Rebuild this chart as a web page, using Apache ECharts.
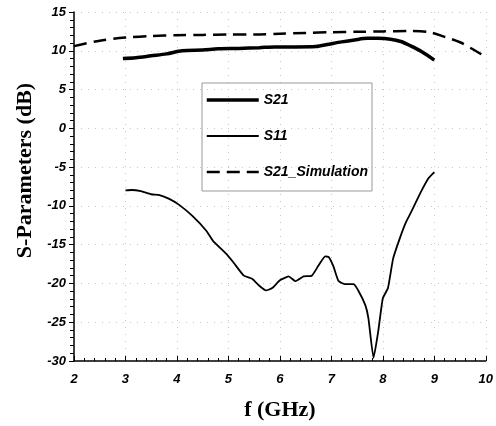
<!DOCTYPE html>
<html>
<head>
<meta charset="utf-8">
<script src="https://cdn.jsdelivr.net/npm/echarts@6/dist/echarts.min.js"></script>
<style>
  html, body { margin: 0; padding: 0; background: #fff; }
  #chart { width: 496px; height: 426px; }
</style>
</head>
<body>
<div id="chart"></div>
<script>
// measured S21
const freqS21 = [2.95, 3.2, 3.5, 3.8, 4.1, 4.5, 4.8, 5.2, 5.6, 5.9, 6.3, 6.7, 6.95, 7.2, 7.45, 7.7, 7.9, 8.15, 8.35, 8.55, 8.75, 9.0];
const valS21 = [9.0, 9.1, 9.35, 9.6, 10.0, 10.1, 10.25, 10.3, 10.4, 10.5, 10.5, 10.55, 10.85, 11.15, 11.4, 11.6, 11.6, 11.5, 11.2, 10.6, 9.9, 8.8];

// measured S11
const freqS11 = [3.0, 3.12, 3.3, 3.5, 3.66, 3.85, 4.05, 4.3, 4.57, 4.7, 4.96, 5.11, 5.3, 5.46, 5.6, 5.73, 5.85, 6.0, 6.17, 6.3, 6.46, 6.62, 6.75, 6.88, 6.95, 7.04, 7.14, 7.27, 7.43, 7.53, 7.66, 7.72, 7.82, 7.91, 8.0, 8.1, 8.2, 8.34, 8.45, 8.55, 8.74, 8.88, 9.0];
const valS11 = [-8.0, -7.95, -8.1, -8.5, -8.6, -9.1, -9.9, -11.3, -13.2, -14.5, -16.2, -17.4, -19.0, -19.4, -20.3, -20.9, -20.6, -19.6, -19.1, -19.7, -19.1, -19.0, -17.7, -16.5, -16.6, -17.8, -19.7, -20.1, -20.1, -21.0, -22.8, -24.5, -29.6, -26.2, -21.9, -20.6, -16.8, -14.0, -12.1, -10.8, -8.2, -6.5, -5.65];

// simulated S21
const freqSim = [2.0, 2.5, 3.0, 3.5, 4.0, 4.5, 5.0, 5.5, 6.0, 6.5, 7.0, 7.5, 8.0, 8.5, 8.9, 9.2, 9.5, 9.8, 10.0];
const valSim = [10.6, 11.3, 11.7, 11.9, 12.0, 12.05, 12.1, 12.1, 12.2, 12.3, 12.4, 12.45, 12.5, 12.55, 12.4, 11.8, 11.1, 10.0, 9.2];

const seriesNames = ['S21', 'S11', 'S21_Simulation'];
const xTicks = [2, 10, 1];
const yTicks = [-30, 15, 5];

const pairs = (xs, ys) => xs.map((x, i) => [x, ys[i]]);

const lineS21 = { color: '#000', width: 3.5 };
const lineS11 = { color: '#000', width: 1.8 };
const lineSim = { color: '#000', width: 2.5, type: [13, 7] };

const chart = echarts.init(document.getElementById('chart'));

const tickFont = {
  fontFamily: 'Liberation Sans',
  fontWeight: 'bold',
  fontStyle: 'italic',
  fontSize: 13,
  color: '#000',
};
const nameFont = {
  fontFamily: 'Liberation Serif',
  fontWeight: 'bold',
  fontSize: 22,
  color: '#000',
};
const gridDots = { show: true, lineStyle: { color: '#c8c8c8', type: [1, 6], width: 1 } };

chart.setOption({
  animation: false,
  backgroundColor: '#fff',
  grid: { left: 74, right: 8, top: 12, bottom: 63 },
  legend: {
    data: [
      { name: seriesNames[0], lineStyle: lineS21 },
      { name: seriesNames[1], lineStyle: lineS11 },
      { name: seriesNames[2], lineStyle: lineSim },
    ],
    orient: 'vertical',
    left: 202,
    top: 83,
    padding: [10, 4, 12, 3],
    itemWidth: 52,
    itemHeight: 14,
    itemGap: 22,
    itemTextGap: 5,
    borderColor: '#999',
    borderWidth: 1,
    itemStyle: { opacity: 0 },
    textStyle: {
      fontFamily: 'Liberation Sans',
      fontWeight: 'bold',
      fontStyle: 'italic',
      fontSize: 14,
      color: '#000',
    },
  },
  xAxis: {
    type: 'value',
    min: xTicks[0],
    max: xTicks[1],
    interval: xTicks[2],
    name: 'f (GHz)',
    nameLocation: 'middle',
    nameGap: 38,
    nameTextStyle: nameFont,
    axisLine: { onZero: false, lineStyle: { color: '#000', width: 1.5 } },
    axisTick: { inside: true, length: 5, lineStyle: { color: '#000' } },
    minorTick: { show: true, splitNumber: 5, length: 3, lineStyle: { color: '#000' } },
    axisLabel: { ...tickFont, margin: 12 },
    splitLine: gridDots,
  },
  yAxis: {
    type: 'value',
    min: yTicks[0],
    max: yTicks[1],
    interval: yTicks[2],
    name: 'S-Parameters (dB)',
    nameLocation: 'middle',
    nameGap: 35,
    nameTextStyle: { ...nameFont, padding: [0, 0, 0, 32] },
    axisLine: { show: true, onZero: false, lineStyle: { color: '#000', width: 1.5 } },
    axisTick: { show: true, inside: false, length: 5, lineStyle: { color: '#000' } },
    minorTick: { show: true, splitNumber: 5, length: 4, lineStyle: { color: '#000' } },
    axisLabel: { ...tickFont, margin: 8 },
    splitLine: gridDots,
  },
  series: [
    {
      name: seriesNames[0],
      type: 'line',
      data: pairs(freqS21, valS21),
      showSymbol: false,
      symbol: 'none',
      smooth: 0.3,
      lineStyle: lineS21,
      itemStyle: { color: '#000' },
    },
    {
      name: seriesNames[1],
      type: 'line',
      data: pairs(freqS11, valS11),
      showSymbol: false,
      symbol: 'none',
      smooth: 0.15,
      lineStyle: lineS11,
      itemStyle: { color: '#000' },
    },
    {
      name: seriesNames[2],
      type: 'line',
      data: pairs(freqSim, valSim),
      showSymbol: false,
      symbol: 'none',
      smooth: 0.3,
      lineStyle: lineSim,
      itemStyle: { color: '#000' },
    },
  ],
});
</script>
</body>
</html>
